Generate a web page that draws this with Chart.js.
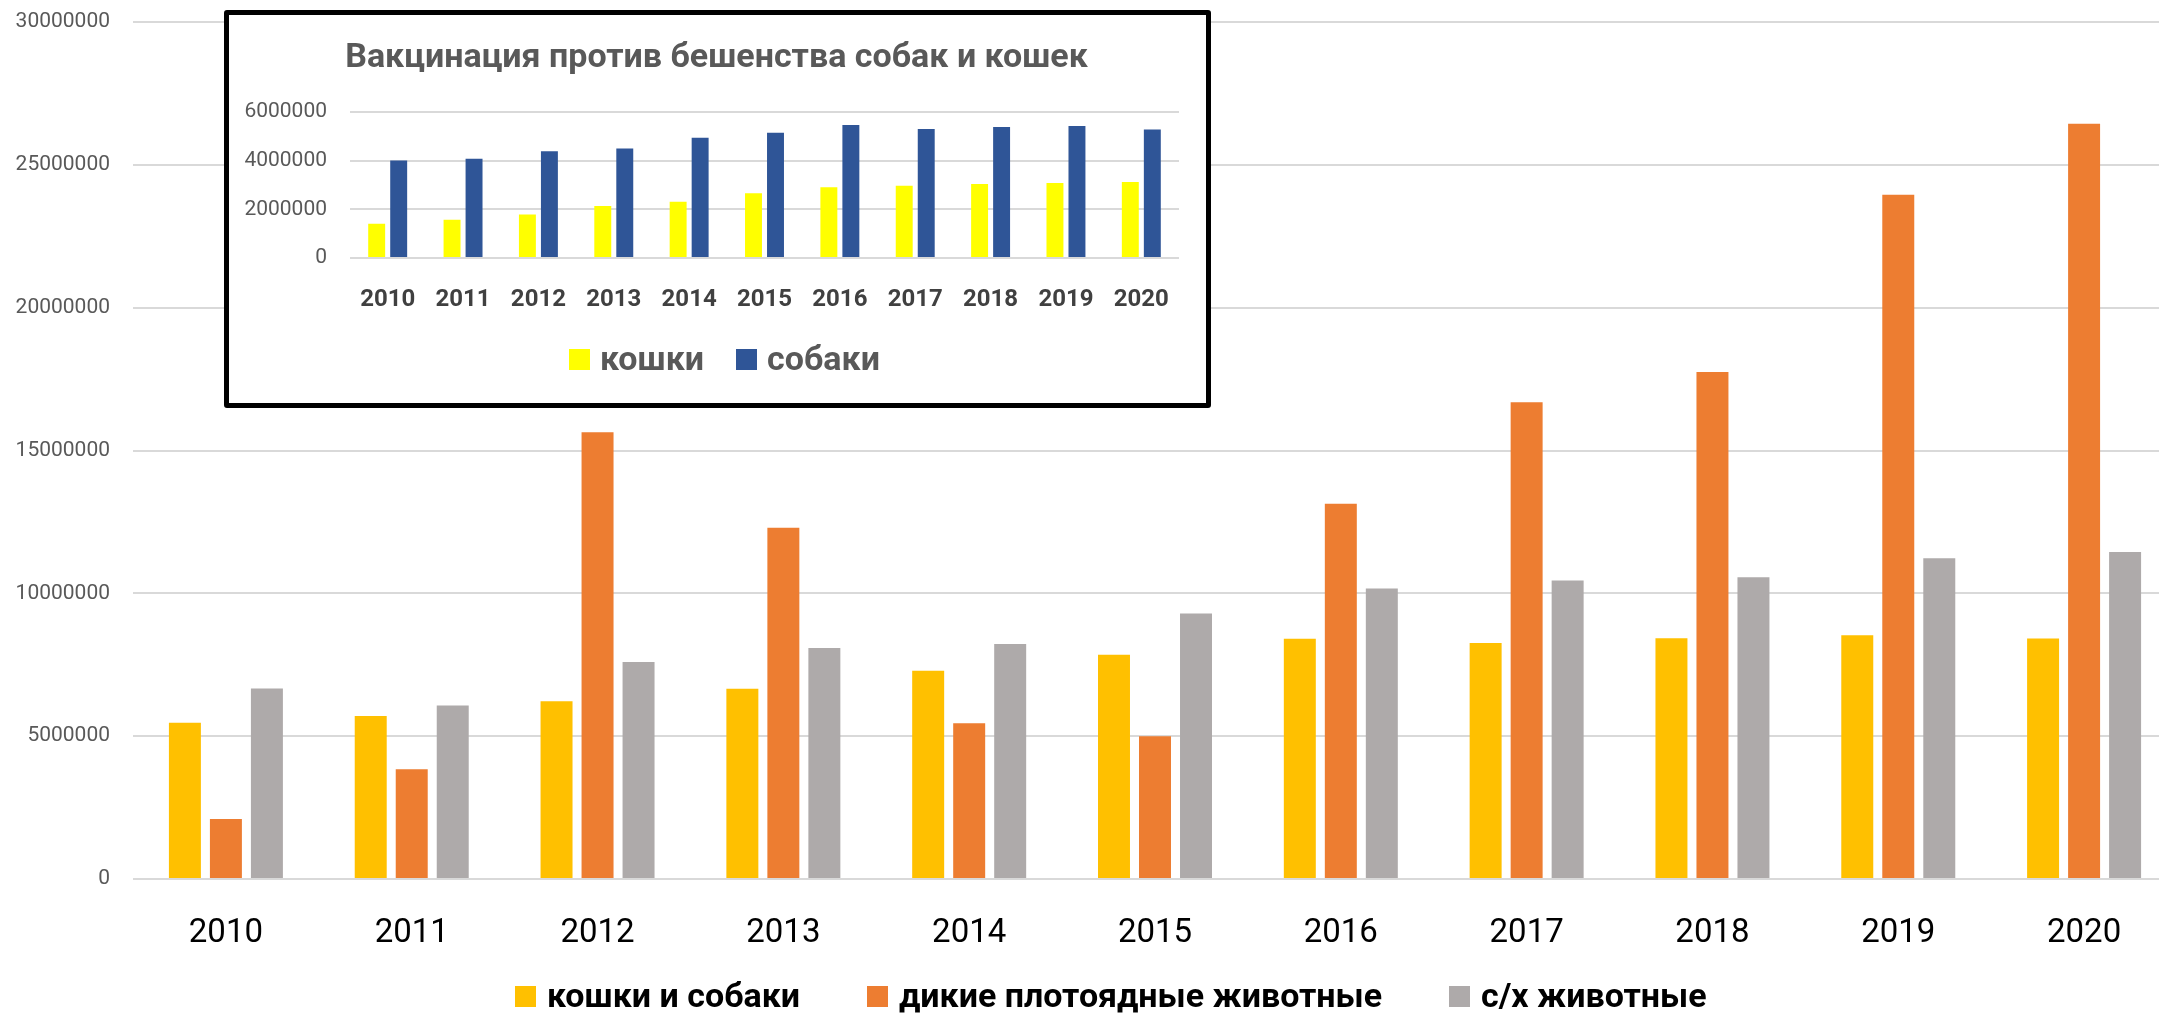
<!DOCTYPE html>
<html lang="ru">
<head>
<meta charset="utf-8">
<title>Вакцинация против бешенства</title>
<script src="https://cdn.jsdelivr.net/npm/chart.js@4.4.1/dist/chart.umd.min.js"></script>
<style>
  html, body { margin: 0; padding: 0; background: #fff; overflow: hidden; }
  #wrap { position: relative; width: 2159px; height: 1013px; overflow: hidden; }
  #mainChart { position: absolute; left: 0; top: 0; }
  #inset {
    position: absolute; left: 224px; top: 10px;
    width: 987px; height: 398px; box-sizing: border-box;
    border: 5px solid #000; border-radius: 3px; background: #fff;
  }
  #insetChart { display: block; }
  .legend {
    position: absolute; white-space: nowrap;
    font-family: Roboto, "Noto Sans", sans-serif; font-weight: bold;
    font-size: 34px; line-height: 40px;
  }
  .legend .item { display: inline-block; }
  .legend .box { display: inline-block; width: 21px; height: 21px; vertical-align: baseline; }
  #mainLegend { left: 515px; top: 975px; color: #000; }
  #mainLegend .box { margin-right: 11px; }
  #mainLegend .item + .item { margin-left: 67px; }
  #insetLegend { left: 340px; top: 323px; color: #595959; }
  #insetLegend .box { margin-right: 10px; }
  #insetLegend .item + .item { margin-left: 32px; }
</style>
</head>
<body>
<div id="wrap">
  <canvas id="mainChart" width="2177" height="1013"></canvas>
  <div id="mainLegend" class="legend"></div>
  <div id="inset">
    <canvas id="insetChart" width="977" height="388"></canvas>
    <div id="insetLegend" class="legend"></div>
  </div>
</div>
<script>
// years on the x axis (shared by both charts)
const years = ['2010', '2011', '2012', '2013', '2014', '2015', '2016', '2017', '2018', '2019', '2020'];

// main chart series
const catsAndDogs = [5470000, 5710000, 6220000, 6660000, 7290000, 7850000, 8410000, 8260000, 8430000, 8530000, 8420000];
const wildCarnivores = [2100000, 3840000, 15640000, 12300000, 5450000, 5000000, 13140000, 16690000, 17750000, 23950000, 26440000];
const farmAnimals = [6670000, 6070000, 7600000, 8090000, 8230000, 9290000, 10170000, 10450000, 10560000, 11230000, 11450000];
const mainTicks = [0, 5000000, 10000000, 15000000, 20000000, 25000000, 30000000];

// inset chart series
const cats = [1410000, 1570000, 1790000, 2130000, 2310000, 2660000, 2900000, 2960000, 3040000, 3080000, 3120000];
const dogs = [4000000, 4070000, 4380000, 4490000, 4930000, 5140000, 5460000, 5290000, 5380000, 5420000, 5270000];
const insetTicks = [0, 2000000, 4000000, 6000000];
const insetTitle = 'Вакцинация против бешенства собак и кошек';

const FONT = 'Roboto, "Noto Sans", sans-serif';
const GRID = '#d9d9d9';

function plainTick(v) { return String(v); }

// value axis: gap before the labels is an invisible tick, so it does not pad the top
function valueAxis(ticks, width) {
    return {
        min: ticks[0],
        max: ticks[ticks.length - 1],
        grid: { color: GRID, lineWidth: 2, drawTicks: true, tickLength: 23, tickColor: 'rgba(0,0,0,0)' },
        border: { display: false },
        ticks: { stepSize: ticks[1] - ticks[0], color: '#595959', padding: 0,
                 font: { family: FONT, size: 21 }, callback: plainTick },
        afterFit: s => { s.width = width; }
    };
}

// html legend, built from the chart's own datasets
function buildLegend(chart, el) {
    chart.data.datasets.forEach(ds => {
        const item = document.createElement('span');
        item.className = 'item';
        const box = document.createElement('span');
        box.className = 'box';
        box.style.background = ds.backgroundColor;
        item.appendChild(box);
        item.appendChild(document.createTextNode(ds.label));
        el.appendChild(item);
    });
}

const mainChart = new Chart(document.getElementById('mainChart'), {
    type: 'bar',
    data: {
        labels: years,
        datasets: [
            { label: 'кошки и собаки', data: catsAndDogs, backgroundColor: '#FFC000' },
            { label: 'дикие плотоядные животные', data: wildCarnivores, backgroundColor: '#ED7D31' },
            { label: 'с/х животные', data: farmAnimals, backgroundColor: '#AEAAAA' }
        ]
    },
    options: {
        responsive: false,
        animation: false,
        devicePixelRatio: 1,
        datasets: { bar: { categoryPercentage: 0.662, barPercentage: 0.78 } },
        layout: { padding: { top: 22, right: 0, bottom: 0, left: 0 } },
        scales: {
            x: {
                grid: { display: false },
                border: { display: false },
                ticks: { color: '#000', padding: 27, font: { family: FONT, size: 33 } },
                afterFit: s => { s.height = 134; }
            },
            y: valueAxis(mainTicks, 133)
        },
        plugins: {
            legend: { display: false },
            tooltip: { enabled: false }
        }
    }
});

const insetChart = new Chart(document.getElementById('insetChart'), {
    type: 'bar',
    data: {
        labels: years,
        datasets: [
            { label: 'кошки', data: cats, backgroundColor: '#FFFF00' },
            { label: 'собаки', data: dogs, backgroundColor: '#2F5597' }
        ]
    },
    options: {
        responsive: false,
        animation: false,
        devicePixelRatio: 1,
        datasets: { bar: { categoryPercentage: 0.584, barPercentage: 0.77 } },
        layout: { padding: { top: 0, right: 2, bottom: 0, left: 0 } },
        scales: {
            x: {
                grid: { display: false },
                border: { display: false },
                ticks: { color: '#404040', padding: 20, font: { family: FONT, size: 24, weight: 'bold' } },
                afterFit: s => { s.height = 145; }
            },
            y: valueAxis(insetTicks, 121),
            // empty right margin so the plot ends where the picture's does
            yRight: {
                position: 'right',
                grid: { display: false },
                border: { display: false },
                ticks: { display: false },
                afterFit: s => { s.width = 25; }
            }
        },
        plugins: {
            legend: { display: false },
            tooltip: { enabled: false },
            title: {
                display: true, text: insetTitle, color: '#595959',
                padding: { top: 23, bottom: 33 },
                font: { family: FONT, size: 34, weight: 'bold' }
            }
        }
    }
});

buildLegend(mainChart, document.getElementById('mainLegend'));
buildLegend(insetChart, document.getElementById('insetLegend'));
</script>
</body>
</html>
